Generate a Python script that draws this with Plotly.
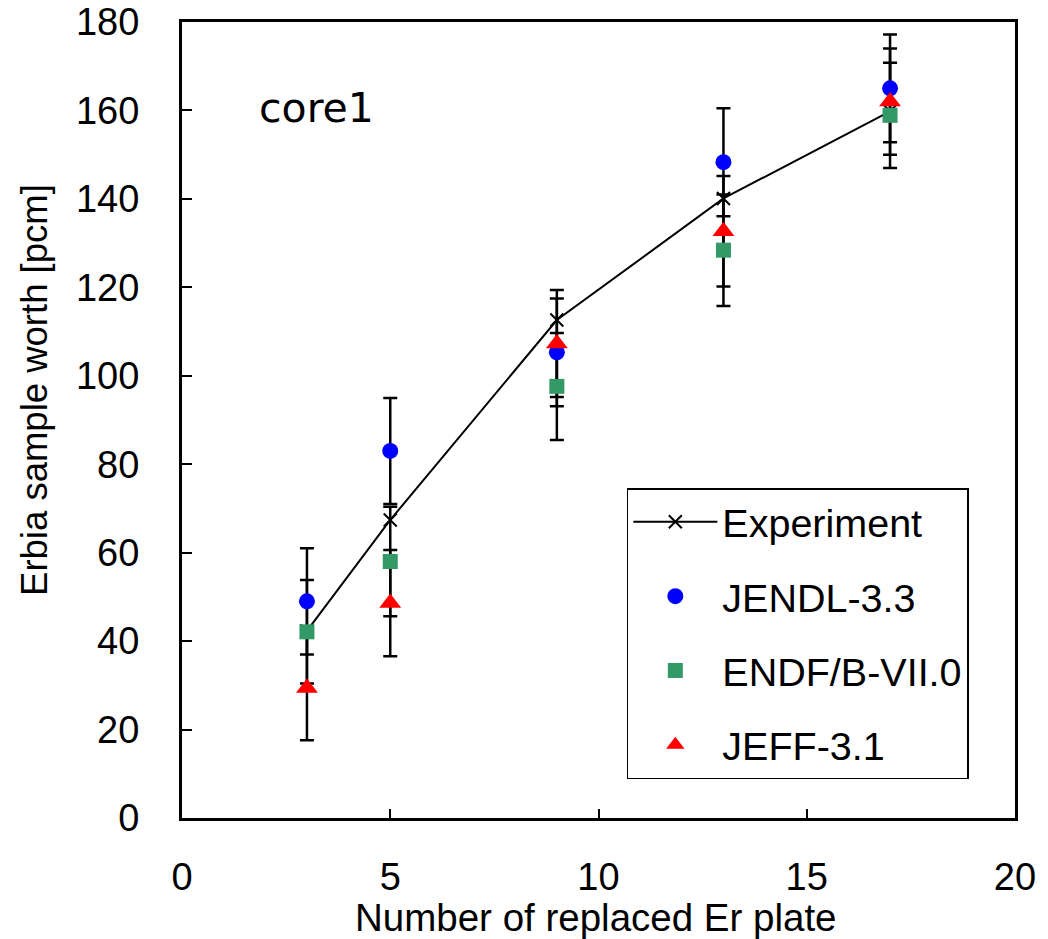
import plotly.graph_objects as go

# ---- data ----
x_plates = [3, 5, 9, 13, 17]
experiment = [42.3, 67.4, 112.6, 140.1, 159.8]
jendl = [49.0, 83.0, 105.3, 148.3, 165.0]
jendl_err = [12.0, 12.0, 12.2, 12.2, 12.2]
endf = [42.1, 58.0, 97.6, 128.4, 158.9]
endf_err = [11.7, 12.4, 12.1, 12.6, 11.9]
jeff = [29.4, 48.6, 107.3, 132.7, 162.0]
jeff_err = [11.8, 12.0, 12.1, 12.5, 12.0]

x_ticks = [0, 5, 10, 15, 20]
y_ticks = [0, 20, 40, 60, 80, 100, 120, 140, 160, 180]

ARIAL = "Liberation Sans, Arial, sans-serif"
TICK_FONT = dict(family=ARIAL, size=38, color="black")

fig = go.Figure()

# error bars first so that all markers sit on top of them
for vals, errs in [(jendl, jendl_err), (endf, endf_err), (jeff, jeff_err)]:
    fig.add_trace(go.Scatter(
        x=x_plates, y=vals, mode="markers",
        marker=dict(size=1, color="rgba(0,0,0,0)"),
        error_y=dict(type="data", array=errs, visible=True,
                     color="black", thickness=2.5, width=7),
        showlegend=False, hoverinfo="skip",
    ))

fig.add_trace(go.Scatter(
    x=x_plates, y=experiment, mode="lines+markers", name="Experiment",
    line=dict(color="black", width=2),
    marker=dict(symbol="x-thin", size=13, line=dict(color="black", width=2)),
    legendgroup="a",
))
fig.add_trace(go.Scatter(
    x=x_plates, y=jendl, mode="markers", name="JENDL-3.3",
    marker=dict(symbol="circle", size=16, color="#0000FF"),
    legendgroup="b",
))
fig.add_trace(go.Scatter(
    x=x_plates, y=endf, mode="markers", name="ENDF/B-VII.0",
    marker=dict(symbol="square", size=15, color="#339966"),
    legendgroup="c",
))
fig.add_trace(go.Scatter(
    x=x_plates, y=jeff, mode="markers", name="JEFF-3.1",
    marker=dict(symbol="triangle-up", size=19, color="#FF0000"),
    legendgroup="d",
))

fig.add_annotation(
    x=1.8, y=160.5, xref="x", yref="y", text="core1", showarrow=False,
    xanchor="left", yanchor="middle",
    font=dict(family="DejaVu Sans, Verdana, sans-serif", size=41, color="black"),
)
# axis titles (paper coords are relative to the plot area: x 182..1015 px, y 818..22 px)
fig.add_annotation(
    x=0.497, y=-0.1245, xref="paper", yref="paper",
    xanchor="center", yanchor="middle", showarrow=False,
    text="Number of replaced Er plate", font=dict(family=ARIAL, size=38.5, color="black"),
)
fig.add_annotation(
    x=-0.1765, y=0.5377, xref="paper", yref="paper",
    xanchor="center", yanchor="middle", showarrow=False, textangle=-90,
    text="Erbia sample worth [pcm]", font=dict(family=ARIAL, size=36.5, color="black"),
)

fig.update_layout(
    width=1048, height=939,
    margin=dict(l=182, r=33, t=22, b=121, autoexpand=False),
    paper_bgcolor="white", plot_bgcolor="white",
    showlegend=True,
    legend=dict(
        x=0.534, y=0.4144, xanchor="left", yanchor="top",
        bgcolor="white", bordercolor="black", borderwidth=1.5,
        font=dict(family=ARIAL, size=39.5, color="black"),
        tracegroupgap=20, traceorder="grouped", itemwidth=84,
    ),
)
fig.update_xaxes(
    range=[0, 20], tickvals=x_ticks, ticks="inside", ticklen=9, tickwidth=1.5,
    tickcolor="black", showline=True, linecolor="black", linewidth=3, mirror=True,
    showgrid=False, zeroline=False, tickfont=TICK_FONT, ticklabelstandoff=23,
    automargin=False,
)
fig.update_yaxes(
    range=[0, 180], tickvals=y_ticks, ticks="inside", ticklen=10, tickwidth=1.5,
    tickcolor="black", showline=True, linecolor="black", linewidth=3, mirror=True,
    showgrid=False, zeroline=False, tickfont=TICK_FONT, ticklabelstandoff=32,
    automargin=False,
)

fig.write_html("out.html")
